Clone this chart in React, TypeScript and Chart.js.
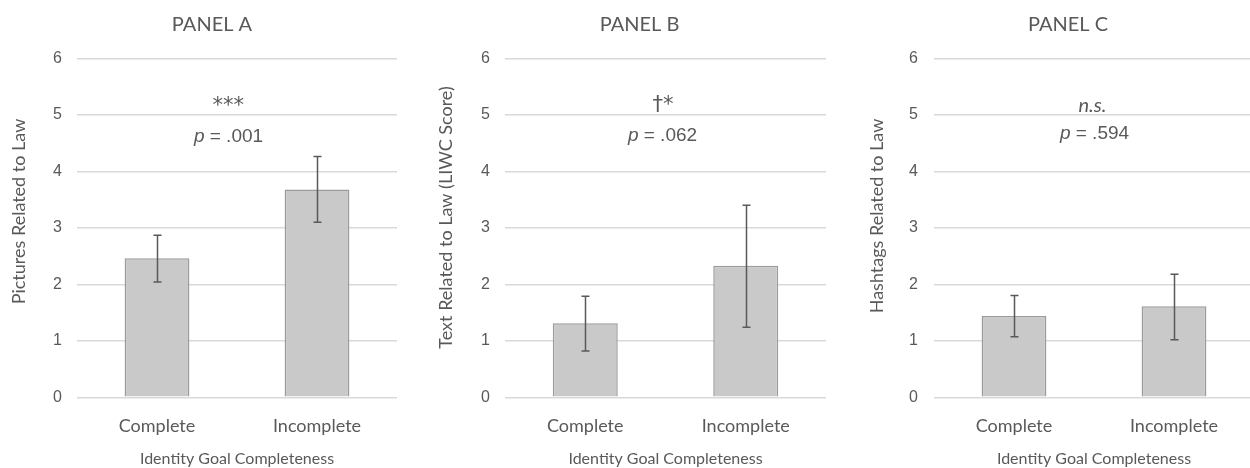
import React, { useEffect, useRef } from "react";
import { Chart, registerables } from "chart.js";

Chart.register(...registerables);

const categories = ["Complete", "Incomplete"];
const yTicks = [0, 1, 2, 3, 4, 5, 6];
const panelTitles = ["PANEL A", "PANEL B", "PANEL C"];
const yTitles = ["Pictures Related to Law", "Text Related to Law (LIWC Score)", "Hashtags Related to Law"];
const xTitle = "Identity Goal Completeness";

const meansA = [2.46, 3.68];
const lowA = [2.04, 3.1];
const highA = [2.87, 4.26];

const meansB = [1.31, 2.33];
const lowB = [0.82, 1.24];
const highB = [1.79, 3.4];

const meansC = [1.44, 1.61];
const lowC = [1.07, 1.02];
const highC = [1.8, 2.18];

const sigLabels = ["***", "†*", "n.s."];
const pValues = [".001", ".062", ".594"];

const TEXT = "#595959";
const CAL = "Lato, 'Open Sans', sans-serif";
const ARIAL = "'Liberation Sans', Arial, sans-serif";
const SYM = "'DejaVu Sans', sans-serif";

type Panel = {
  left: number;
  width: number;
  axisWidth: number;
  padRight: number;
  yTitleX: number;
  yTitleY: number;
  tickPad: number;
  sigDx: number;
  pDx: number;
  sigY: number;
  pY: number;
  means: number[];
  low: number[];
  high: number[];
  idx: number;
};

const panels: Panel[] = [
  { left: 0, width: 424, axisWidth: 77, padRight: 27, yTitleX: 19.5, yTitleY: 211.5, tickPad: 15, sigDx: -8.7, pDx: -8.5, sigY: 5.15, pY: 4.616, means: meansA, low: lowA, high: highA, idx: 0 },
  { left: 424, width: 431, axisWidth: 81, padRight: 29, yTitleX: 22.5, yTitleY: 217.5, tickPad: 15, sigDx: -2.5, pDx: -3, sigY: 5.155, pY: 4.625, means: meansB, low: lowB, high: highB, idx: 1 },
  { left: 855, width: 426, axisWidth: 79, padRight: 27, yTitleX: 22, yTitleY: 216, tickPad: 16, sigDx: -1.5, pDx: 0.5, sigY: 5.17, pY: 4.67, means: meansC, low: lowC, high: highC, idx: 2 },
];

function PanelChart({ p }: { p: Panel }) {
  const ref = useRef<HTMLCanvasElement | null>(null);
  useEffect(() => {
    if (!ref.current) return;
    const errorBars = {
      id: "errorBars",
      afterDatasetsDraw(chart: any) {
        const ctx = chart.ctx;
        const meta = chart.getDatasetMeta(0);
        const ys = chart.scales.y;
        ctx.save();
        ctx.strokeStyle = "#595959";
        ctx.lineWidth = 1.5;
        meta.data.forEach((bar: any, i: number) => {
          const x = Math.round(bar.x) + 0.5;
          const yh = ys.getPixelForValue(p.high[i]);
          const yl = ys.getPixelForValue(p.low[i]);
          ctx.beginPath();
          ctx.moveTo(x, yh);
          ctx.lineTo(x, yl);
          ctx.moveTo(x - 4, yh);
          ctx.lineTo(x + 4, yh);
          ctx.moveTo(x - 4, yl);
          ctx.lineTo(x + 4, yl);
          ctx.stroke();
        });
        ctx.restore();
      },
    };
    const annotations = {
      id: "annotations",
      afterDraw(chart: any) {
        const ctx = chart.ctx;
        const ys = chart.scales.y;
        const ca = chart.chartArea;
        const mid = (ca.left + ca.right) / 2;
        ctx.save();
        ctx.fillStyle = TEXT;
        ctx.textBaseline = "middle";
        // y-axis title
        ctx.save();
        ctx.translate(p.yTitleX, p.yTitleY);
        ctx.rotate(-Math.PI / 2);
        ctx.textAlign = "center";
        ctx.font = "18px " + CAL;
        ctx.fillText(yTitles[p.idx], 0, 0);
        ctx.restore();
        // significance marker
        ctx.textAlign = "center";
        ctx.font = p.idx === 2 ? "italic 20px " + CAL : "21px " + SYM;
        ctx.fillText(sigLabels[p.idx], mid + p.sigDx, ys.getPixelForValue(p.sigY));
        // p value line
        const italicFont = "italic 19px " + ARIAL;
        const regFont = "19px " + ARIAL;
        const rest = " = " + pValues[p.idx];
        ctx.font = italicFont;
        const w1 = ctx.measureText("p").width;
        ctx.font = regFont;
        const w2 = ctx.measureText(rest).width;
        const startX = mid + p.pDx - (w1 + w2) / 2;
        const py = ys.getPixelForValue(p.pY);
        ctx.textAlign = "left";
        ctx.font = italicFont;
        ctx.fillText("p", startX, py);
        ctx.font = regFont;
        ctx.fillText(rest, startX + w1, py);
        ctx.restore();
      },
    };
    const chart = new Chart(ref.current, {
      type: "bar",
      data: {
        labels: categories,
        datasets: [
          {
            data: p.means,
            backgroundColor: "#c9c9c9",
            borderColor: "#9b9b9b",
            borderWidth: 1.5,
            barPercentage: 0.405,
            categoryPercentage: 1,
          },
        ],
      },
      options: {
        animation: false,
        responsive: false,
        maintainAspectRatio: false,
        devicePixelRatio: 1,
        layout: { padding: 0 },
        plugins: {
          legend: { display: false },
          tooltip: { enabled: false },
          title: {
            display: true,
            text: panelTitles[p.idx],
            color: TEXT,
            font: { family: CAL, size: 20, weight: "normal" as any, lineHeight: 1.2 },
            padding: { top: 13, bottom: 21.3 },
          },
        },
        scales: {
          x: {
            grid: { display: false, drawTicks: false },
            border: { display: false },
            ticks: { color: TEXT, font: { family: CAL, size: 18 }, padding: 18 },
            title: {
              display: true,
              text: xTitle,
              color: TEXT,
              font: { family: CAL, size: 16, lineHeight: 1.2 },
              padding: { top: 0, bottom: 0 },
            },
            afterFit: (s: any) => {
              s.height = 70.7;
            },
          },
          y: {
            min: 0,
            max: 6,
            afterBuildTicks: (s: any) => {
              s.ticks = yTicks.map((v) => ({ value: v }));
            },
            grid: { color: "#d9d9d9", lineWidth: 1.5, drawTicks: false },
            border: { display: false },
            ticks: { color: TEXT, font: { family: ARIAL, size: 16 }, padding: p.tickPad },
            title: { display: false },
            afterFit: (s: any) => {
              s.width = p.axisWidth;
            },
          },
          yr: {
            position: "right",
            display: true,
            grid: { display: false, drawTicks: false },
            border: { display: false },
            ticks: { display: false },
            afterFit: (s: any) => {
              s.width = p.padRight;
            },
          },
        },
      },
      plugins: [errorBars, annotations],
    });
    return () => chart.destroy();
  }, [p]);
  return (
    <canvas
      ref={ref}
      width={p.width}
      height={468}
      style={{ position: "absolute", left: p.left, top: 0, width: p.width, height: 468 }}
    />
  );
}

export default function App() {
  return (
    <div
      style={{
        position: "absolute",
        left: 0,
        top: 0,
        width: 1250,
        height: 468,
        overflow: "hidden",
        background: "#ffffff",
      }}
    >
      {panels.map((p) => (
        <PanelChart key={p.idx} p={p} />
      ))}
    </div>
  );
}
